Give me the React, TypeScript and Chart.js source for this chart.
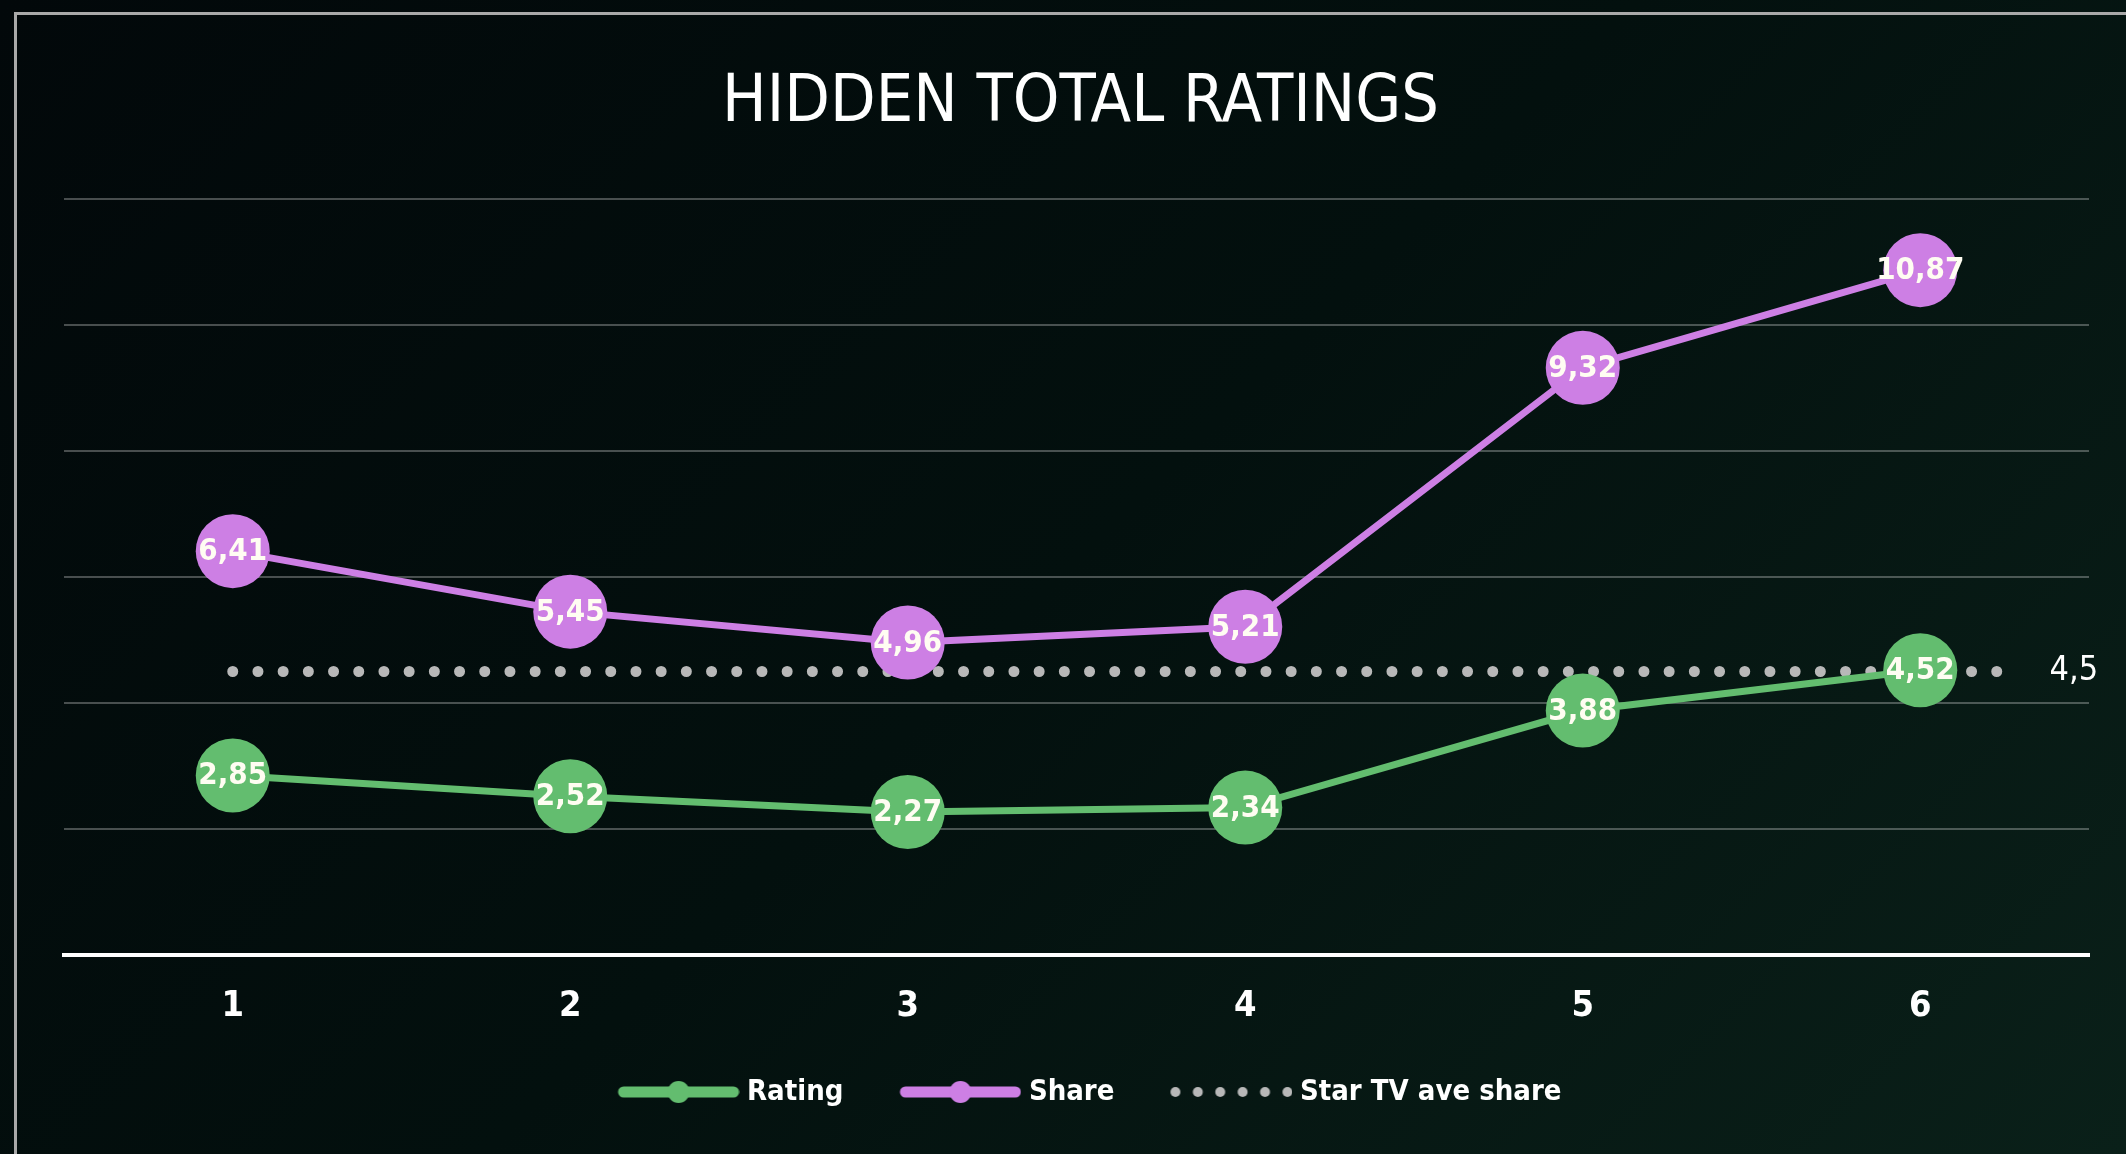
import React, { useEffect, useRef } from 'react';
import { Chart, registerables } from 'chart.js';

Chart.register(...registerables);

// ---- data ----
const categories = ['1', '2', '3', '4', '5', '6'];
const ratingValues = [2.85, 2.52, 2.27, 2.34, 3.88, 4.52];
const shareValues = [6.41, 5.45, 4.96, 5.21, 9.32, 10.87];
const aveShareValue = 4.5;
const aveShareSpan = [1, 6.3];
const seriesNames = ['Rating', 'Share', 'Star TV ave share'];
const yTickValues = [0, 2, 4, 6, 8, 10, 12];
const titleText = 'HIDDEN TOTAL RATINGS';

// ---- style ----
const GREEN = '#63bd6f';
const PURPLE = '#cd7fe4';
const GRAY = '#b8b8b8';
const FONT = "'Liberation Sans Narrow', 'DejaVu Sans Condensed', 'Arial Narrow', sans-serif";

function fmt(v: number): string {
  return String(v).replace('.', ',');
}

// legend swatch canvas: transparent on the left, the visible marker in the right part
const VIS_W = 122;
const SWATCH_W = 147;
function lineMarker(color: string): HTMLCanvasElement {
  const c = document.createElement('canvas');
  c.width = SWATCH_W;
  c.height = 24;
  const g = c.getContext('2d')!;
  const x0 = SWATCH_W - VIS_W;
  g.strokeStyle = color;
  g.lineWidth = 11;
  g.lineCap = 'round';
  g.beginPath();
  g.moveTo(x0 + 6, 12);
  g.lineTo(x0 + VIS_W - 6, 12);
  g.stroke();
  g.fillStyle = color;
  g.beginPath();
  g.arc(x0 + VIS_W / 2, 12, 11, 0, Math.PI * 2);
  g.fill();
  return c;
}

function dotMarker(color: string): HTMLCanvasElement {
  const c = document.createElement('canvas');
  c.width = SWATCH_W;
  c.height = 24;
  const g = c.getContext('2d')!;
  const x0 = SWATCH_W - VIS_W;
  g.fillStyle = color;
  for (let i = 0; i < 6; i++) {
    g.beginPath();
    g.arc(x0 + 5 + i * 22.4, 12, 5, 0, Math.PI * 2);
    g.fill();
  }
  return c;
}

export default function App() {
  const ref = useRef<HTMLCanvasElement>(null);

  useEffect(() => {
    if (!ref.current) return;
    const markers = [lineMarker(GREEN), lineMarker(PURPLE), dotMarker(GRAY)];

    const labelPlugin = {
      id: 'valueLabels',
      afterDatasetsDraw(chart: any) {
        const ctx = chart.ctx;
        ctx.save();
        chart.data.datasets.forEach((ds: any, di: number) => {
          const meta = chart.getDatasetMeta(di);
          if (di < 2) {
            ctx.font = `bold 31px ${FONT}`;
            ctx.fillStyle = '#fffdf2';
            ctx.textAlign = 'center';
            ctx.textBaseline = 'middle';
            meta.data.forEach((pt: any, i: number) => {
              ctx.fillText(fmt(ds.data[i].y), pt.x, pt.y + 1);
            });
          } else {
            const last = meta.data[meta.data.length - 1];
            ctx.font = `34px ${FONT}`;
            ctx.fillStyle = '#ffffff';
            ctx.textAlign = 'left';
            ctx.textBaseline = 'middle';
            ctx.fillText(fmt(aveShareValue), last.x + 28, last.y);
          }
        });
        ctx.restore();
      },
    };

    const chart = new Chart(ref.current, {
      type: 'line',
      data: {
        labels: categories,
        datasets: [
          {
            label: seriesNames[0],
            data: ratingValues.map((v, i) => ({ x: i + 1, y: v })),
            borderColor: GREEN,
            backgroundColor: GREEN,
            borderWidth: 7,
            pointRadius: 37,
            pointBorderWidth: 0,
            pointBackgroundColor: GREEN,
            tension: 0,
          },
          {
            label: seriesNames[1],
            data: shareValues.map((v, i) => ({ x: i + 1, y: v })),
            borderColor: PURPLE,
            backgroundColor: PURPLE,
            borderWidth: 7,
            pointRadius: 37,
            pointBorderWidth: 0,
            pointBackgroundColor: PURPLE,
            tension: 0,
          },
          {
            label: seriesNames[2],
            data: aveShareSpan.map((x) => ({ x, y: aveShareValue })),
            borderColor: GRAY,
            backgroundColor: GRAY,
            borderWidth: 11,
            borderDash: [0, 25.2],
            borderCapStyle: 'round',
            pointRadius: 0,
            tension: 0,
          },
        ] as any,
      },
      options: {
        responsive: false,
        animation: false,
        devicePixelRatio: 1,
        layout: { padding: { left: 64, right: 29, top: 0, bottom: 37.5 } },
        scales: {
          x: {
            type: 'linear',
            min: 0.5,
            max: 6.5,
            afterBuildTicks: (scale: any) => {
              scale.ticks = categories.map((_, i) => ({ value: i + 1 }));
            },
            afterFit: (scale: any) => {
              scale.height = 84.5;
            },
            grid: { display: false, drawTicks: false },
            border: { display: true, color: '#ffffff', width: 4 },
            ticks: {
              color: '#ffffff',
              padding: 30,
              font: { family: FONT, size: 36, weight: 'bold' },
              callback: (v: any) => categories[Math.round(Number(v)) - 1] ?? '',
            },
          },
          y: {
            min: 0,
            max: 12,
            afterBuildTicks: (scale: any) => {
              scale.ticks = yTickValues.map((v) => ({ value: v }));
            },
            grid: { color: 'rgba(255,255,255,0.28)', lineWidth: 2, drawTicks: false },
            border: { display: false },
            ticks: { display: false },
          },
        },
        plugins: {
          title: {
            display: true,
            text: titleText,
            color: '#ffffff',
            font: { family: FONT, size: 66, weight: 'normal' },
            padding: { top: 64.4, bottom: 55.4 },
          },
          legend: {
            display: true,
            position: 'bottom',
            labels: {
              usePointStyle: true,
              pointStyleWidth: 133,
              padding: 38,
              color: '#ffffff',
              font: { family: FONT, size: 29, weight: 'bold' },
              generateLabels: (ch: any) => {
                const base = (Chart.defaults.plugins.legend.labels as any).generateLabels(ch);
                return base.map((it: any, i: number) => ({ ...it, pointStyle: markers[i], fontColor: '#ffffff' }));
              },
            },
          },
          tooltip: { enabled: false },
        },
      } as any,
      plugins: [labelPlugin],
    });
    return () => chart.destroy();
  }, []);

  return (
    <div
      style={{
        position: 'fixed',
        left: 0,
        top: 0,
        width: 2126,
        height: 1154,
        overflow: 'hidden',
        background: 'linear-gradient(135deg, #02080a 0%, #03100e 50%, #0a2019 100%)',
      }}
    >
      <div
        style={{
          position: 'absolute',
          left: 14,
          top: 12,
          width: 2126,
          height: 1154,
          borderTop: '3px solid #a9a9a9',
          borderLeft: '3px solid #a9a9a9',
        }}
      />
      <canvas ref={ref} width={2126} height={1154} style={{ position: 'absolute', left: 0, top: 0 }} />
    </div>
  );
}
